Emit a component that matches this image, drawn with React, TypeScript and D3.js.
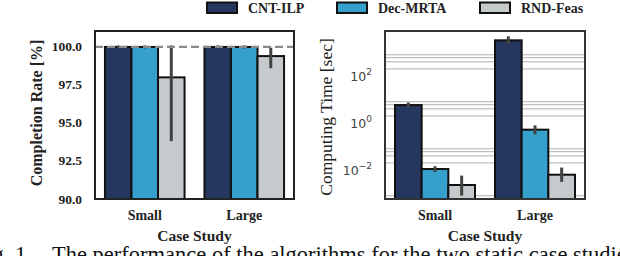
import React from 'react';
import * as d3 from 'd3';

// chart data
const categories = ['Small', 'Large'];
const algorithms = ['CNT-ILP', 'Dec-MRTA', 'RND-Feas'];
const colors = ['#25375f', '#35a0cb', '#c5cacc'];

// completion rate [%] per algorithm, per case study
const completion = [
  [100, 100],
  [100, 100],
  [98.0, 99.4],
];
const completionLo = [
  [100, 100],
  [100, 100],
  [93.9, 98.7],
];
const completionHi = [
  [100, 100],
  [100, 100],
  [100, 99.85],
];
const completionTicks = [90, 92.5, 95, 97.5, 100];

// computing time [sec]
const compTime = [
  [5.8, 3300],
  [0.011, 0.52],
  [0.0023, 0.0063],
];
const compTimeLo = [
  [5.3, 2600],
  [0.0095, 0.38],
  [0.00094, 0.0036],
];
const compTimeHi = [
  [6.4, 4200],
  [0.0125, 0.68],
  [0.005, 0.011],
];
const timeTickExps = [-2, 0, 2];
const gridDecades = [-4, -2, 0, 2];
const gridSubs = [2, 4, 6, 8];

const serif = '"Liberation Serif", "Times New Roman", serif';
const sans = '"DejaVu Sans", sans-serif';

const top = 31;
const bottom = 199;

const Bars = ({ x0, x1, y, values, lo, hi }) => {
  const xg = d3.scaleBand().domain(categories).range([x0, x1]).paddingInner(0.2).paddingOuter(0.1);
  const xs = d3.scaleBand().domain(algorithms).range([0, xg.bandwidth()]);
  return (
    <g>
      {algorithms.map((a, i) =>
        categories.map((c, j) => {
          const bx = xg(c) + xs(a);
          const by = y(values[i][j]);
          const cx = bx + xs.bandwidth() / 2;
          return (
            <g key={a + c}>
              <rect x={bx} y={by} width={xs.bandwidth()} height={bottom - by}
                fill={colors[i]} stroke="#111" strokeWidth={2} />
              <line x1={cx} x2={cx} y1={y(lo[i][j])} y2={y(hi[i][j])}
                stroke="#424242" strokeWidth={3} strokeLinecap="square" />
            </g>
          );
        })
      )}
      {categories.map((c) => (
        <text key={c} x={xg(c) + xg.bandwidth() / 2} y={220} textAnchor="middle"
          fontFamily={serif} fontWeight="bold" fontSize={14} fill="#222">{c}</text>
      ))}
      <text x={(x0 + x1) / 2} y={240.5} textAnchor="middle" fontFamily={serif}
        fontWeight="bold" fontSize={15.5} fill="#222">Case Study</text>
    </g>
  );
};

const App = () => {
  // left panel: completion rate
  const lx0 = 95, lx1 = 294;
  const yL = d3.scaleLinear().domain([90, 101.05]).range([bottom, top]);

  // right panel: computing time (log)
  const rx0 = 385, rx1 = 585;
  const yR = d3.scaleLog().domain([Math.pow(10, -3.234), Math.pow(10, 3.915)]).range([bottom, top]);
  const gridVals = gridDecades
    .flatMap((e) => gridSubs.map((s) => s * Math.pow(10, e)))
    .filter((v) => yR(v) > top && yR(v) < bottom);

  const legendX = [207, 337, 480];

  return (
    <svg width={620} height={256} style={{ position: 'absolute', left: 0, top: 0 }}>
      <rect width={620} height={256} fill="#fff" />

      {/* legend */}
      {algorithms.map((a, i) => (
        <g key={a}>
          <rect x={legendX[i]} y={2.5} width={30} height={10.5} fill={colors[i]} stroke="#111" strokeWidth={2} />
          <text x={legendX[i] + 41} y={13} fontFamily={serif} fontWeight="bold" fontSize={14} fill="#222">{a}</text>
        </g>
      ))}

      {/* left panel */}
      <Bars x0={lx0} x1={lx1} y={yL} values={completion} lo={completionLo} hi={completionHi} />
      <line x1={lx0} x2={lx1} y1={yL(100)} y2={yL(100)} stroke="#8a8a8a" strokeWidth={2.2} strokeDasharray="8,4" />
      <rect x={lx0} y={top} width={lx1 - lx0} height={bottom - top} fill="none" stroke="#222" strokeWidth={2} />
      {completionTicks.map((t) => (
        <text key={t} x={82} y={yL(t) + 4.5} textAnchor="end" fontFamily={serif}
          fontWeight="bold" fontSize={13.5} fill="#222">{t.toFixed(1)}</text>
      ))}
      <text transform={`translate(42,${(top + bottom) / 2 - 2}) rotate(-90)`} textAnchor="middle"
        fontFamily={serif} fontWeight="bold" fontSize={16} fill="#222">Completion Rate [%]</text>

      {/* right panel */}
      {gridVals.map((v) => (
        <line key={v} x1={rx0} x2={rx1} y1={yR(v)} y2={yR(v)} stroke="#b0b0b0" strokeWidth={1} />
      ))}
      <Bars x0={rx0} x1={rx1} y={yR} values={compTime} lo={compTimeLo} hi={compTimeHi} />
      <rect x={rx0} y={top} width={rx1 - rx0} height={bottom - top} fill="none" stroke="#333" strokeWidth={2} />
      {timeTickExps.map((e) => (
        <text key={e} x={372} y={yR(Math.pow(10, e)) + 5} textAnchor="end" fontFamily={sans}
          fontSize={12.5} fill="#444">
          10<tspan dy={-6} fontSize={9}>{e < 0 ? '\u2212' + Math.abs(e) : e}</tspan>
        </text>
      ))}
      <text transform={`translate(332,${(top + bottom) / 2 + 2}) rotate(-90)`} textAnchor="middle"
        fontFamily={serif} fontSize={17.5} fill="#222">Computing Time [sec]</text>

      {/* caption */}
      <text x={32} y={262} textAnchor="end" fontFamily={serif} fontSize={22.5} fill="#111">Fig. 1.</text>
      <text x={52} y={262} fontFamily={serif} fontSize={22.5} fill="#111">
        The performance of the algorithms for the two static case studies.
      </text>
    </svg>
  );
};

export default App;
